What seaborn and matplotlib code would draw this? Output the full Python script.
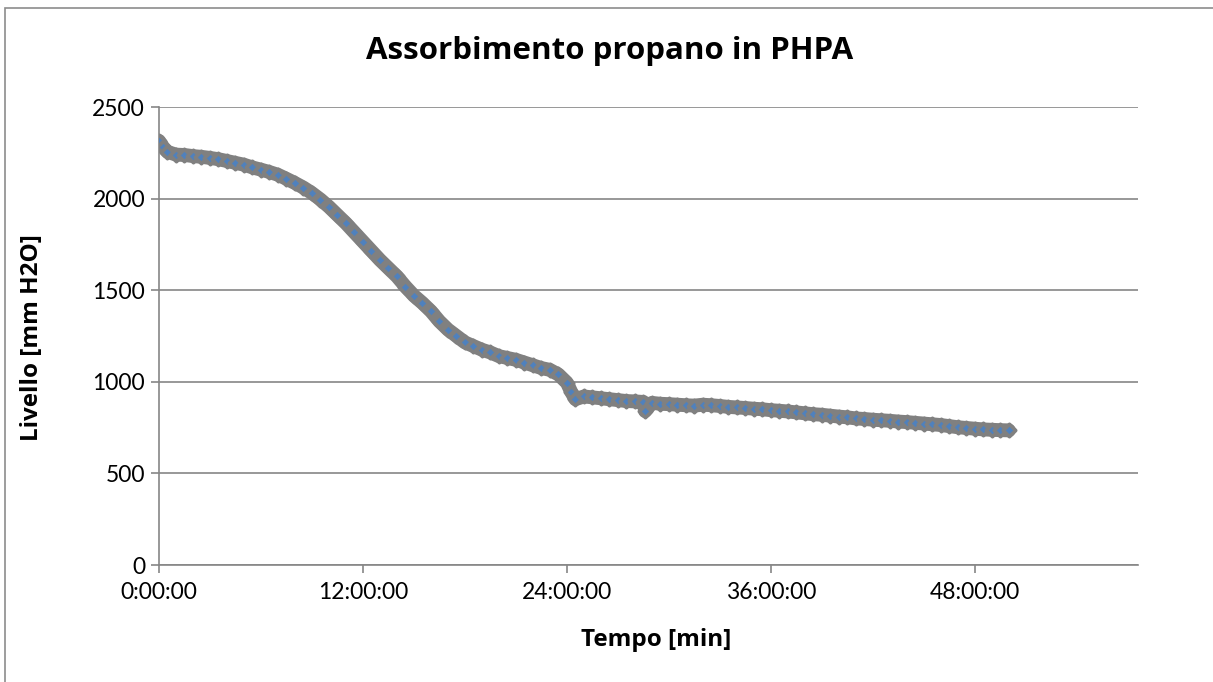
import matplotlib
matplotlib.use("Agg")
import matplotlib.pyplot as plt
import seaborn as sns
import pandas as pd
from matplotlib.patches import Rectangle

# --- data (hours, mm H2O) ---
tempo_h = [0.0, 0.25, 0.5, 1.0, 1.5, 2.0, 2.5, 3.0, 3.5, 4.0, 4.5, 5.0, 5.5, 6.0, 6.5,
           7.0, 7.5, 8.0, 8.5, 9.0, 9.5, 10.0, 10.5, 11.0, 11.5, 12.0, 12.5, 13.0, 13.5,
           14.0, 14.5, 15.0, 15.5, 16.0, 16.5, 17.0, 17.5, 18.0, 18.5, 19.0, 19.5, 20.0,
           20.5, 21.0, 21.5, 22.0, 22.5, 23.0, 23.5, 24.0, 24.25, 24.5, 25.0, 25.5, 26.0,
           26.5, 27.0, 27.5, 28.0, 28.5, 28.6, 29.0, 29.5, 30.0, 30.5, 31.0, 31.5, 32.0,
           32.5, 33.0, 33.5, 34.0, 34.5, 35.0, 35.5, 36.0, 36.5, 37.0, 37.5, 38.0, 38.5,
           39.0, 39.5, 40.0, 40.5, 41.0, 41.5, 42.0, 42.5, 43.0, 43.5, 44.0, 44.5, 45.0,
           45.5, 46.0, 46.5, 47.0, 47.5, 48.0, 48.5, 49.0, 49.5, 50.0]
livello = [2315, 2280, 2255, 2240, 2238, 2232, 2228, 2222, 2215, 2205, 2195, 2185, 2170,
           2158, 2145, 2130, 2108, 2085, 2060, 2030, 1995, 1955, 1910, 1865, 1815, 1765,
           1715, 1665, 1620, 1575, 1520, 1470, 1430, 1385, 1330, 1285, 1250, 1215, 1195,
           1175, 1160, 1140, 1130, 1120, 1105, 1090, 1075, 1065, 1040, 995, 945, 905, 920,
           915, 910, 905, 900, 895, 893, 890, 840, 885, 880, 878, 875, 872, 870, 875, 872,
           868, 863, 860, 857, 853, 850, 845, 842, 838, 833, 828, 823, 820, 815, 810, 806,
           800, 797, 793, 790, 787, 783, 780, 776, 772, 768, 764, 758, 752, 748, 744, 740,
           738, 736, 735]
xticks_h = [0, 12, 24, 36, 48]
xtick_labels = ["0:00:00", "12:00:00", "24:00:00", "36:00:00", "48:00:00"]
yticks = [0, 500, 1000, 1500, 2000, 2500]

df = pd.DataFrame({"t": tempo_h, "v": livello})

sns.set_theme(style="white")
plt.rcParams["font.family"] = ["Lato", "DejaVu Sans"]
plt.rcParams["text.color"] = "black"

W, H = 1213, 682
fig = plt.figure(figsize=(W / 100, H / 100), dpi=100)
ax = fig.add_axes([159 / W, 1 - 565 / H, (1138 - 159) / W, (565 - 107) / H])

grey = "#868686"
band = "#808080"
# outer chart border
fig.patches.append(Rectangle((5 / W, -0.05), 1.2, 1 - 7.5 / H + 0.05, transform=fig.transFigure,
                             fill=False, edgecolor="#8c8c8c", linewidth=1.2))

sns.lineplot(data=df, x="t", y="v", ax=ax, color=band, linewidth=10,
             sort=False, zorder=2)
sns.scatterplot(data=df, x="t", y="v", ax=ax, marker="D", s=40, color="#4F81BD",
                edgecolor=band, linewidth=2.6, zorder=3)

ax.set_xlim(0, 57.6)
ax.set_ylim(0, 2500)
ax.set_xticks(xticks_h)
ax.set_xticklabels(xtick_labels)
ax.set_yticks(yticks)
ax.yaxis.grid(True, color=grey, linewidth=1.2)
ax.xaxis.grid(False)
for s in ["top", "right"]:
    ax.spines[s].set_visible(False)
for s in ["left", "bottom"]:
    ax.spines[s].set_color(grey)
    ax.spines[s].set_linewidth(1.2)
ax.tick_params(axis="both", which="major", direction="out", length=6, width=1.2,
               color=grey, labelsize=16.5, labelcolor="black", pad=4)
ax.tick_params(axis="x", pad=6)
ax.tick_params(left=True, bottom=True)

ax.set_xlabel("")
ax.set_ylabel("")
bold = ["Open Sans", "DejaVu Sans"]
fig.text(610 / W, 1 - 51 / H, "Assorbimento propano in PHPA", ha="center", va="center",
         fontsize=22.5, fontweight="bold", family=bold, color="black")
fig.text(656 / W, 1 - 640 / H, "Tempo [min]", ha="center", va="center",
         fontsize=17.5, fontweight="bold", family=bold, color="black")
fig.text(32 / W, 1 - 338 / H, "Livello [mm H2O]", ha="center", va="center",
         rotation=90, fontsize=17.5, fontweight="bold", family=bold, color="black")

fig.savefig("out.png", dpi=100)
